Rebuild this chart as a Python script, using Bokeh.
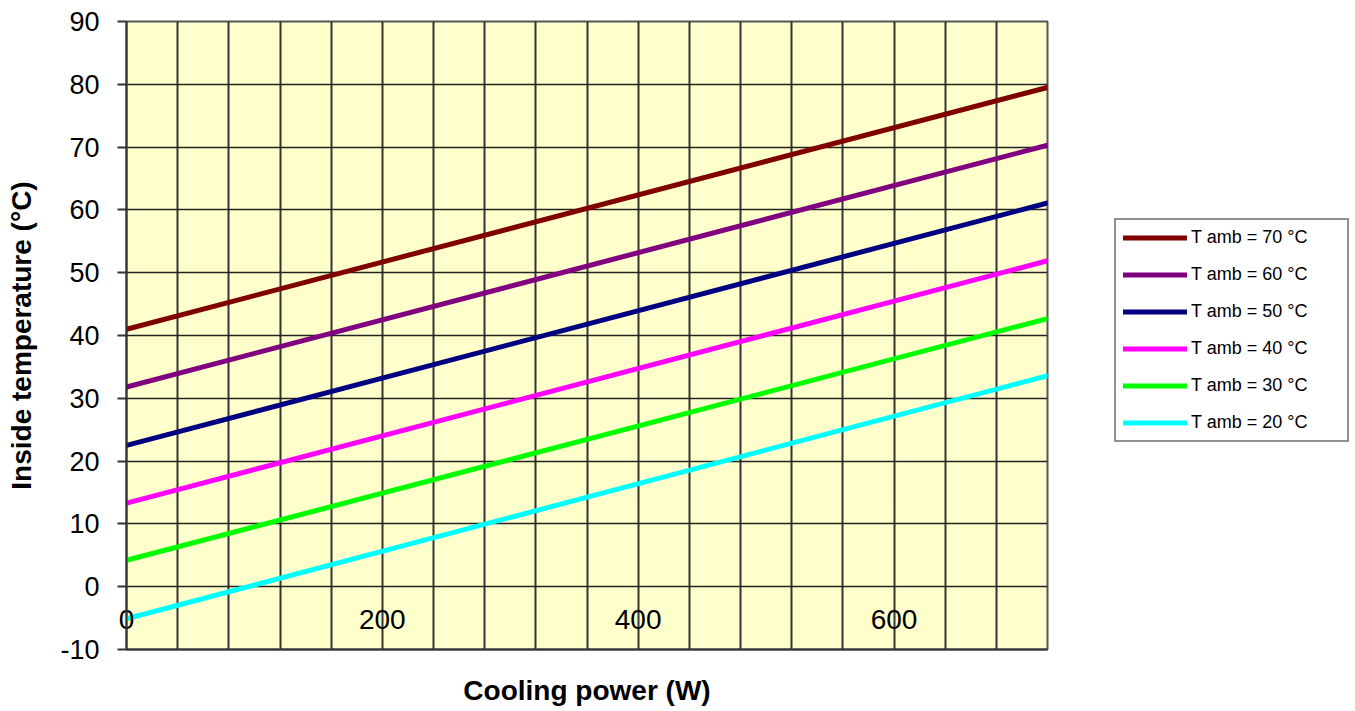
from bokeh.plotting import figure
from bokeh.models import FixedTicker, Legend, LegendItem, Range1d
from bokeh.embed import file_html
from bokeh.resources import INLINE

# ---- data ----
power = [0, 720]
t_amb_70 = [41.0, 79.5]
t_amb_60 = [31.8, 70.3]
t_amb_50 = [22.5, 61.1]
t_amb_40 = [13.3, 51.9]
t_amb_30 = [4.2, 42.7]
t_amb_20 = [-5.1, 33.6]
series = [t_amb_70, t_amb_60, t_amb_50, t_amb_40, t_amb_30, t_amb_20]
series_labels = ["T amb = 70 °C", "T amb = 60 °C", "T amb = 50 °C",
                 "T amb = 40 °C", "T amb = 30 °C", "T amb = 20 °C"]
colors = ["#800000", "#800080", "#000080", "#FF00FF", "#00FF00", "#00FFFF"]
x_label_ticks = [0, 200, 400, 600]
x_grid_ticks = [0, 40, 80, 120, 160, 200, 240, 280, 320, 360, 400, 440,
                480, 520, 560, 600, 640, 680, 720]
y_ticks = [-10, 0, 10, 20, 30, 40, 50, 60, 70, 80, 90]

FONT = "Liberation Sans"
GRID = "#333333"

p = figure(frame_width=921, frame_height=628,
           x_range=Range1d(0, 720), y_range=Range1d(-10, 90),
           output_backend="svg", toolbar_location=None,
           min_border_left=126, min_border_top=21,
           min_border_right=300, min_border_bottom=57,
           background_fill_color="#FFFFCC", border_fill_color="white",
           outline_line_color="#555555", outline_line_width=2)

# x axis: labels drawn just under the y = 0 grid line, title below frame
p.xaxis.ticker = FixedTicker(ticks=x_label_ticks)
p.xaxis.major_tick_line_color = None
p.xaxis.minor_tick_line_color = None
p.xaxis.axis_line_color = GRID
p.xaxis.axis_line_width = 2
p.xaxis.major_label_standoff = -46
p.xaxis.major_label_text_font = FONT
p.xaxis.major_label_text_font_size = "28px"
p.xaxis.major_label_text_color = "black"
p.xaxis.axis_label = "Cooling power (W)"
p.xaxis.axis_label_text_font = FONT
p.xaxis.axis_label_text_font_style = "bold"
p.xaxis.axis_label_text_font_size = "28px"
p.xaxis.axis_label_text_color = "black"
p.xaxis.axis_label_standoff = 43

# y axis
p.yaxis.ticker = FixedTicker(ticks=y_ticks)
p.yaxis.major_label_overrides = {-10: "-10"}
p.yaxis.major_tick_out = 9
p.yaxis.major_tick_in = 0
p.yaxis.major_tick_line_width = 2
p.yaxis.major_tick_line_color = GRID
p.yaxis.minor_tick_line_color = None
p.yaxis.axis_line_color = GRID
p.yaxis.axis_line_width = 2
p.yaxis.major_label_standoff = 18
p.yaxis.major_label_text_font = FONT
p.yaxis.major_label_text_font_size = "27px"
p.yaxis.major_label_text_color = "black"
p.yaxis.axis_label = "Inside temperature (°C)"
p.yaxis.axis_label_text_font = FONT
p.yaxis.axis_label_text_font_style = "bold"
p.yaxis.axis_label_text_font_size = "28px"
p.yaxis.axis_label_text_color = "black"
p.yaxis.axis_label_standoff = 20

p.xgrid.ticker = FixedTicker(ticks=x_grid_ticks)
p.xgrid.grid_line_color = GRID
p.xgrid.grid_line_width = 2
p.xgrid.grid_line_alpha = 1
p.ygrid.grid_line_color = "#222222"
p.ygrid.grid_line_width = 1.6
p.ygrid.grid_line_alpha = 1

items = []
for vals, lab, col in zip(series, series_labels, colors):
    r = p.line(power, vals, line_width=5, line_color=col, line_cap="round")
    items.append(LegendItem(label=lab, renderers=[r]))

legend = Legend(items=items, location=(67, 207), padding=7, spacing=16,
                glyph_width=64, glyph_height=21, label_height=21,
                label_width=149, label_standoff=4, label_text_font=FONT,
                label_text_font_size="18px", label_text_color="black",
                border_line_color="#222222", border_line_width=2,
                background_fill_color="white", margin=0)
p.add_layout(legend, "right")

open("out.html", "w").write(file_html(p, INLINE))
